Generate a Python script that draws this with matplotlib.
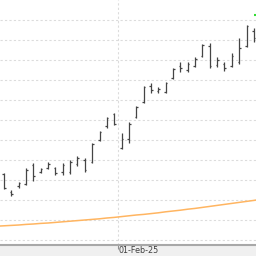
#!/usr/bin/env python3
"""Daily OHLC bars with a slow moving average."""

import matplotlib

matplotlib.use("Agg")
import matplotlib.pyplot as plt
import matplotlib.transforms as mtransforms
import numpy as np

# bar values (one per trading day)
opens = [43.0, 34.0, 37.0, 38.0, 47.5, 44.0, 46.0, 46.0, 44.0, 44.0, 48.0, 50.0,
         49.0, 60.0, 67.0, 73.0, 56.0, 60.5, 71.5, 79.0, 87.0, 84.5, 84.0, 91.0,
         97.0, 95.0, 97.0, 102.0, 107.0, 97.5, 98.0, 97.0, 99.0, 107.0, 114.5]
highs = [43.5, 35.0, 39.0, 46.0, 48.5, 46.0, 49.0, 46.5, 48.5, 50.0, 52.0, 51.0,
         58.5, 64.5, 71.5, 73.5, 63.5, 69.0, 77.0, 87.0, 88.5, 86.5, 89.0, 96.0,
         99.0, 99.0, 101.5, 108.0, 108.5, 101.5, 99.0, 103.5, 111.0, 117.5, 116.0]
lows = [35.5, 32.0, 36.0, 37.5, 39.5, 43.5, 45.5, 42.5, 42.5, 43.0, 47.0, 44.0,
        48.5, 59.5, 66.0, 67.5, 55.5, 58.5, 71.0, 78.5, 83.5, 83.5, 83.5, 90.5,
        94.0, 94.0, 96.5, 101.5, 96.0, 96.5, 94.5, 96.5, 98.0, 106.5, 109.0]
closes = [36.0, 33.0, 38.5, 45.0, 42.0, 45.5, 48.0, 43.5, 47.5, 49.0, 51.0, 45.0,
          58.0, 64.0, 71.0, 68.0, 60.5, 68.0, 76.5, 86.5, 85.0, 85.5, 88.5, 95.5,
          96.0, 98.0, 100.5, 107.5, 97.0, 100.0, 96.0, 102.0, 106.0, 117.0, 111.0]

# moving average, from one day before the first bar to one day after the last
ma_values = [16.9, 17.1, 17.3, 17.5, 17.8, 18.0, 18.3, 18.5, 18.8, 19.1, 19.4,
             19.7, 20.0, 20.3, 20.6, 21.0, 21.3, 21.7, 22.1, 22.5, 22.8, 23.2,
             23.6, 24.1, 24.5, 24.9, 25.4, 25.8, 26.3, 26.8, 27.3, 27.8, 28.3,
             28.8, 29.3, 29.8, 30.4]

month_tick = 15.5
month_label = "01-Feb-25"
signal_level = 122.6

x = np.arange(len(opens))
fig = plt.figure(figsize=(2.56, 2.56), dpi=100, facecolor="#f0f0f0")
ax = fig.add_axes([0, 11 / 256, 1, 245 / 256])
ax.set_facecolor("white")

bar_color = "#454545"
ax.vlines(x, lows, highs, color=bar_color, linewidth=0.9)
ax.hlines(opens, x - 0.22, x, color=bar_color, linewidth=0.9)
ax.hlines(closes, x, x + 0.22, color=bar_color, linewidth=0.9)
ax.plot(np.arange(-1, len(opens) + 1), ma_values, color="#ffb561", linewidth=1.1)
ax.hlines([signal_level], x[-1] - 0.05, x[-1] + 0.4, color="#33dd33", linewidth=1.5)

ax.set_xlim(-0.54, 34.29)
ax.set_ylim(7.5, 130)
ax.set_yticks(np.arange(10, 130, 10))
ax.set_xticks([month_tick])
ax.set_xticklabels([])
ax.tick_params(axis="x", length=3, width=0.8, color="#909090")
ax.tick_params(axis="y", left=False, labelleft=False)
ax.grid(color="#dcdcdc", linestyle=(0, (2, 2)), linewidth=0.8)
ax.set_axisbelow(True)
ax.spines[["top", "right", "left"]].set_visible(False)
ax.spines["bottom"].set_color("#a8a8a8")
ax.spines["bottom"].set_linewidth(1.5)

label_pos = mtransforms.blended_transform_factory(ax.transData, fig.transFigure)
ax.text(month_tick + 0.1, 5.5 / 256, month_label, transform=label_pos,
        ha="left", va="center", fontsize=5.8, color="#404040")

fig.savefig("out.png", dpi=100, facecolor=fig.get_facecolor())
